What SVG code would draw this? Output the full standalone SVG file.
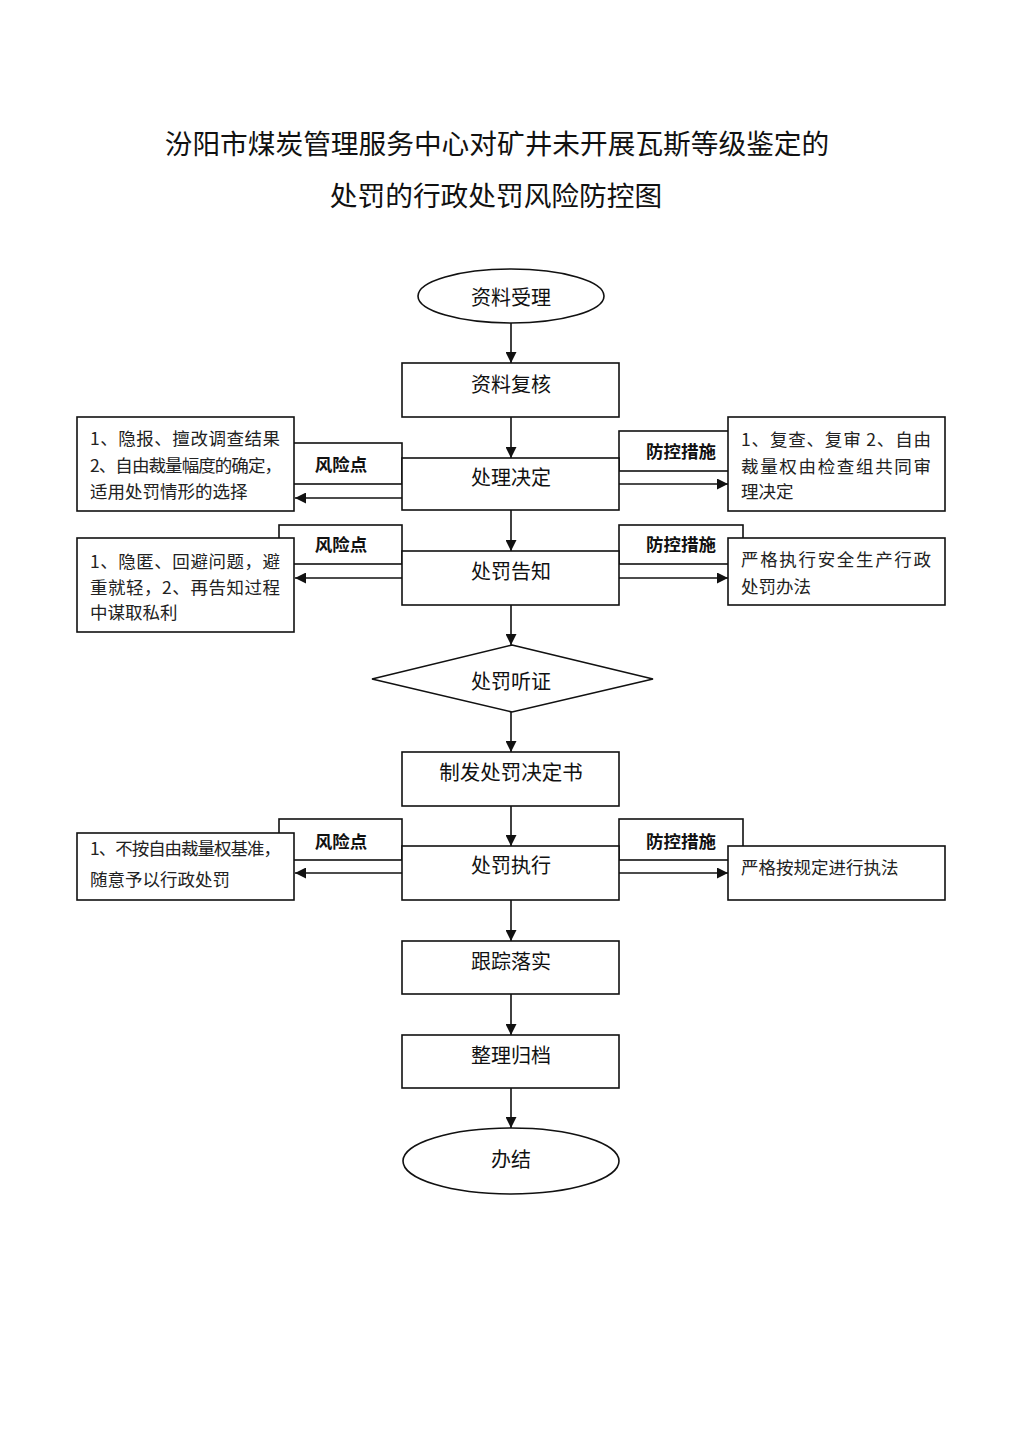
<svg xmlns="http://www.w3.org/2000/svg" width="1024" height="1448" viewBox="0 0 1024 1448">
<style>
text{font-family:"Noto Sans CJK SC","Noto Sans",sans-serif;fill:#111}
.title{font-size:27.7px;text-anchor:middle}
.node{font-size:20px;text-anchor:middle}
.lab{font-size:17.5px;font-weight:bold;text-anchor:middle}
.side{font-size:17.5px;fill:#222}
.shape{fill:#fff;stroke:#111;stroke-width:1.6}
.lbox{fill:#fff;stroke:#111;stroke-width:1.6}
.con{fill:none;stroke:#111;stroke-width:1.6}
</style>
<defs>
<marker id="ah" viewBox="0 0 11 11" refX="11" refY="5.5" markerWidth="11" markerHeight="11" markerUnits="userSpaceOnUse" orient="auto">
<path d="M0,0 L11,5.5 L0,11 z" fill="#111"/>
</marker>
</defs>
<rect width="1024" height="1448" fill="#fff"/>
<text class="title" x="497" y="154">汾阳市煤炭管理服务中心对矿井未开展瓦斯等级鉴定的</text>
<text class="title" x="496" y="206">处罚的行政处罚风险防控图</text>

<g id="labels">
<g id="risk1"><rect class="lbox" x="279" y="443" width="123" height="41"/><text class="lab" x="341" y="471">风险点</text></g>
<g id="ctrl1"><rect class="lbox" x="619" y="431" width="124" height="40"/><text class="lab" x="681" y="458">防控措施</text></g>
<g id="risk2"><rect class="lbox" x="279" y="525" width="123" height="39"/><text class="lab" x="341" y="551">风险点</text></g>
<g id="ctrl2"><rect class="lbox" x="619" y="525" width="124" height="39"/><text class="lab" x="681" y="551">防控措施</text></g>
<g id="risk3"><rect class="lbox" x="279" y="819" width="123" height="41"/><text class="lab" x="341" y="848">风险点</text></g>
<g id="ctrl3"><rect class="lbox" x="619" y="819" width="124" height="41"/><text class="lab" x="681" y="848">防控措施</text></g>
</g>

<g id="riskbox1"><rect class="shape" x="77" y="417" width="217" height="94"/>
<text class="side" x="90" y="445" textLength="190">1、隐报、擅改调查结果</text>
<text class="side" x="90" y="472" textLength="192">2、自由裁量幅度的确定，</text>
<text class="side" x="90" y="498">适用处罚情形的选择</text></g>
<g id="ctrlbox1"><rect class="shape" x="728" y="417" width="217" height="94"/>
<text class="side" x="741" y="446" textLength="190">1、复查、复审 2、自由</text>
<text class="side" x="741" y="473" textLength="190">裁量权由检查组共同审</text>
<text class="side" x="741" y="498">理决定</text></g>
<g id="riskbox2"><rect class="shape" x="77" y="538" width="217" height="94"/>
<text class="side" x="90" y="568" textLength="190">1、隐匿、回避问题，避</text>
<text class="side" x="90" y="594" textLength="190">重就轻，2、再告知过程</text>
<text class="side" x="90" y="619">中谋取私利</text></g>
<g id="ctrlbox2"><rect class="shape" x="728" y="538" width="217" height="67"/>
<text class="side" x="741" y="566" textLength="190">严格执行安全生产行政</text>
<text class="side" x="741" y="593">处罚办法</text></g>
<g id="riskbox3"><rect class="shape" x="77" y="833" width="217" height="67"/>
<text class="side" x="90" y="855" textLength="191">1、不按自由裁量权基准，</text>
<text class="side" x="90" y="886">随意予以行政处罚</text></g>
<g id="ctrlbox3"><rect class="shape" x="728" y="846" width="217" height="54"/>
<text class="side" x="741" y="874">严格按规定进行执法</text></g>

<g id="n1"><ellipse class="shape" cx="511" cy="296" rx="93" ry="27"/><text class="node" x="511" y="305">资料受理</text></g>
<g id="n2"><rect class="shape" x="402" y="363" width="217" height="54"/><text class="node" x="511" y="392">资料复核</text></g>
<g id="n3"><rect class="shape" x="402" y="458" width="217" height="52"/><text class="node" x="511" y="485">处理决定</text></g>
<g id="n4"><rect class="shape" x="402" y="551" width="217" height="54"/><text class="node" x="511" y="579">处罚告知</text></g>
<g id="n5"><polygon class="shape" points="512,645 653,679 512,712 372,679"/><text class="node" x="511" y="689">处罚听证</text></g>
<g id="n6"><rect class="shape" x="402" y="752" width="217" height="54"/><text class="node" x="511" y="780" style="font-size:20.5px">制发处罚决定书</text></g>
<g id="n7"><rect class="shape" x="402" y="846" width="217" height="54"/><text class="node" x="511" y="873">处罚执行</text></g>
<g id="n8"><rect class="shape" x="402" y="941" width="217" height="53"/><text class="node" x="511" y="969">跟踪落实</text></g>
<g id="n9"><rect class="shape" x="402" y="1035" width="217" height="53"/><text class="node" x="511" y="1063">整理归档</text></g>
<g id="n10"><ellipse class="shape" cx="511" cy="1161" rx="108" ry="33"/><text class="node" x="511" y="1167">办结</text></g>

<g id="connectors">
<line class="con" x1="511" y1="323" x2="511" y2="363" marker-end="url(#ah)"/>
<line class="con" x1="511" y1="417" x2="511" y2="458" marker-end="url(#ah)"/>
<line class="con" x1="511" y1="510" x2="511" y2="551" marker-end="url(#ah)"/>
<line class="con" x1="511" y1="605" x2="511" y2="645" marker-end="url(#ah)"/>
<line class="con" x1="511" y1="712" x2="511" y2="752" marker-end="url(#ah)"/>
<line class="con" x1="511" y1="806" x2="511" y2="846" marker-end="url(#ah)"/>
<line class="con" x1="511" y1="900" x2="511" y2="941" marker-end="url(#ah)"/>
<line class="con" x1="511" y1="994" x2="511" y2="1035" marker-end="url(#ah)"/>
<line class="con" x1="511" y1="1088" x2="511" y2="1128" marker-end="url(#ah)"/>
<line class="con" x1="402" y1="498" x2="295" y2="498" marker-end="url(#ah)"/>
<line class="con" x1="619" y1="484" x2="728" y2="484" marker-end="url(#ah)"/>
<line class="con" x1="402" y1="578" x2="295" y2="578" marker-end="url(#ah)"/>
<line class="con" x1="619" y1="578" x2="728" y2="578" marker-end="url(#ah)"/>
<line class="con" x1="402" y1="873" x2="295" y2="873" marker-end="url(#ah)"/>
<line class="con" x1="619" y1="873" x2="728" y2="873" marker-end="url(#ah)"/>
</g>
</svg>
